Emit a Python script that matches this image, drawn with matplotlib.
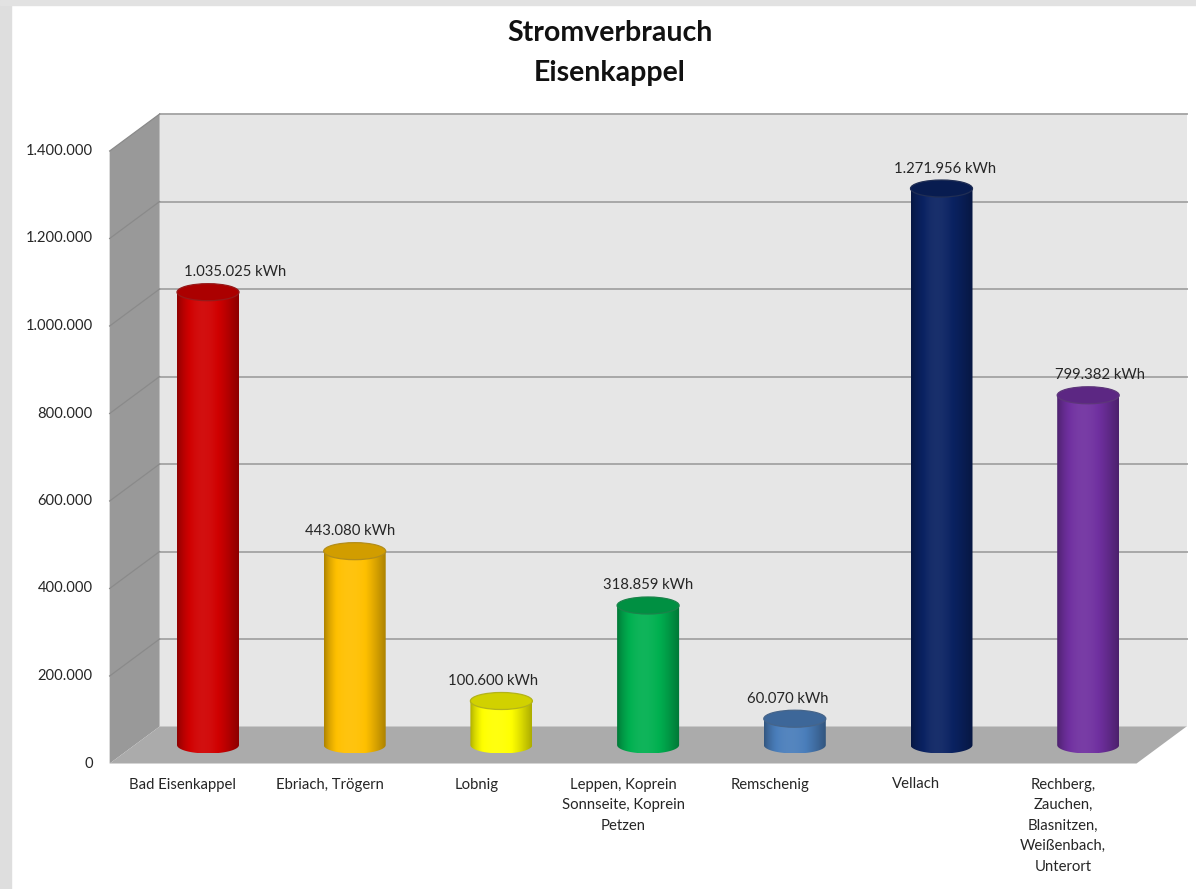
import numpy as np
import matplotlib.pyplot as plt
from matplotlib.patches import Rectangle, Polygon, Ellipse, PathPatch
from matplotlib.path import Path
from matplotlib.colors import to_rgb

# -----------------------------------
# Data
# -----------------------------------
orte = [
    "Bad Eisenkappel",
    "Ebriach, Trögern",
    "Lobnig",
    "Leppen, Koprein\nSonnseite, Koprein\nPetzen",
    "Remschenig",
    "Vellach",
    "Rechberg,\nZauchen,\nBlasnitzen,\nWeißenbach,\nUnterort",
]
verbrauch = [1035025, 443080, 100600, 318859, 60070, 1271956, 799382]
farben = ["#d00000", "#ffc000", "#ffff00", "#00b050", "#4a7ebb", "#0a2262", "#7030a0"]
y_ticks = [0, 200000, 400000, 600000, 800000, 1000000, 1200000, 1400000]

# small horizontal nudges of the value labels (pixels), like in the original
label_shift = [27, -5, -8, 0, -7, 4, 12]


def de_num(v):
    return f"{v:,}".replace(",", ".")


plt.rcParams['font.family'] = ['Lato', 'DejaVu Sans']
TXT = "#262626"

# -----------------------------------
# Figure + axes mapped to pixels
# -----------------------------------
W, H = 1196, 889
fig = plt.figure(figsize=(W / 100, H / 100), dpi=100)
ax = fig.add_axes([0, 0, 1, 1])
ax.axis('off')

X0_PX = 208          # centre of first bar
SX = 146.7           # pixels per category
BASE_PX = 745        # baseline of the bars (from top)
SY = 437.5 / 1e6     # pixels per kWh

ax.set_xlim(-X0_PX / SX, (W - X0_PX) / SX)
ax.set_ylim(-(H - BASE_PX) / SY, BASE_PX / SY)

DX = 25 / SX         # half depth of the 3d box
DY = 18.5 / SY
n = len(verbrauch)
xl, xr = -0.5, n - 0.5
ytop = y_ticks[-1]

# border of the screenshot
fig.patches.append(Rectangle((0, 0), 11 / W, 1, transform=fig.transFigure,
                             color="#dedede", zorder=-5))
fig.patches.append(Rectangle((0, 1 - 5 / H), 1, 5 / H, transform=fig.transFigure,
                             color="#e2e2e2", zorder=-5))

# -----------------------------------
# Walls and floor
# -----------------------------------
ax.add_patch(Rectangle((xl + DX, DY), xr - xl, ytop, facecolor="#e6e6e6",
                       edgecolor="none", zorder=0))
ax.add_patch(Polygon([(xl - DX, -DY), (xl - DX, ytop - DY), (xl + DX, ytop + DY), (xl + DX, DY)],
                     facecolor="#999999", edgecolor="none", zorder=0))
ax.add_patch(Polygon([(xl - DX, -DY), (xl + DX, DY), (xr + DX, DY), (xr - DX, -DY)],
                     facecolor="#ababab", edgecolor="none", zorder=1))

for v in y_ticks[1:]:
    ax.plot([xl + DX, xr + DX], [v + DY, v + DY], color="#a3a3a3", lw=1.3, zorder=1)
    ax.plot([xl - DX, xl + DX], [v - DY, v + DY], color="#8a8a8a", lw=0.9, zorder=1)
    ax.annotate(de_num(v), (xl - DX, v - DY), xytext=(-17, 0), textcoords='offset pixels',
                ha='right', va='center', fontsize=10.6, color=TXT)
ax.annotate("0", (xl - DX, -DY), xytext=(-17, 0), textcoords='offset pixels',
            ha='right', va='center', fontsize=10.6, color=TXT)

# -----------------------------------
# Cylinders
# -----------------------------------
bw = 62 / SX
eh = 17 / SY
t = np.linspace(0, 1, 80)
prof = 0.68 + 0.42 * np.sin(np.pi * t ** 0.8)
ang = np.linspace(np.pi, 2 * np.pi, 60)

for i, (v, c) in enumerate(zip(verbrauch, farben)):
    base = np.array(to_rgb(c))
    grad = np.empty((1, len(t), 3))
    for k, f in enumerate(prof):
        col = base * min(f, 1.0) + (1 - base) * max(f - 1.0, 0.0) * 0.6
        grad[0, k] = np.clip(col, 0, 1)

    # body outline: straight sides + lower half ellipse
    arc = np.column_stack([i + bw / 2 * np.cos(ang), eh / 2 * np.sin(ang)])
    verts = [(i - bw / 2, v)] + [tuple(p) for p in arc] + [(i + bw / 2, v), (i - bw / 2, v)]
    body = PathPatch(Path(verts), facecolor='none', edgecolor='none', zorder=3)
    ax.add_patch(body)
    im = ax.imshow(grad, extent=[i - bw / 2, i + bw / 2, -eh / 2, v], aspect='auto',
                   interpolation='bicubic', zorder=3)
    im.set_clip_path(body)

    top_c = base * 0.82
    ax.add_patch(Ellipse((i, v), bw, eh, facecolor=top_c,
                         edgecolor=np.clip(base * 0.6 + 0.1, 0, 1), lw=0.9, zorder=4))

    ax.annotate(de_num(v) + " kWh", (i, v), xytext=(label_shift[i], 20),
                textcoords='offset pixels', ha='center', va='center',
                fontsize=10.7, color=TXT, zorder=5)

    ax.annotate(orte[i], (i - DX, -DY), xytext=(0, -14), textcoords='offset pixels',
                ha='center', va='top', fontsize=10.7, color=TXT, linespacing=1.6)

# -----------------------------------
# Title
# -----------------------------------
fig.text(610 / W, 1 - 33 / H, "Stromverbrauch", ha='center', va='center',
         fontsize=20.5, fontweight='bold', color="#111111")
fig.text(610 / W, 1 - 73 / H, "Eisenkappel", ha='center', va='center',
         fontsize=20.5, fontweight='bold', color="#111111")

fig.savefig("out.png", dpi=100)
